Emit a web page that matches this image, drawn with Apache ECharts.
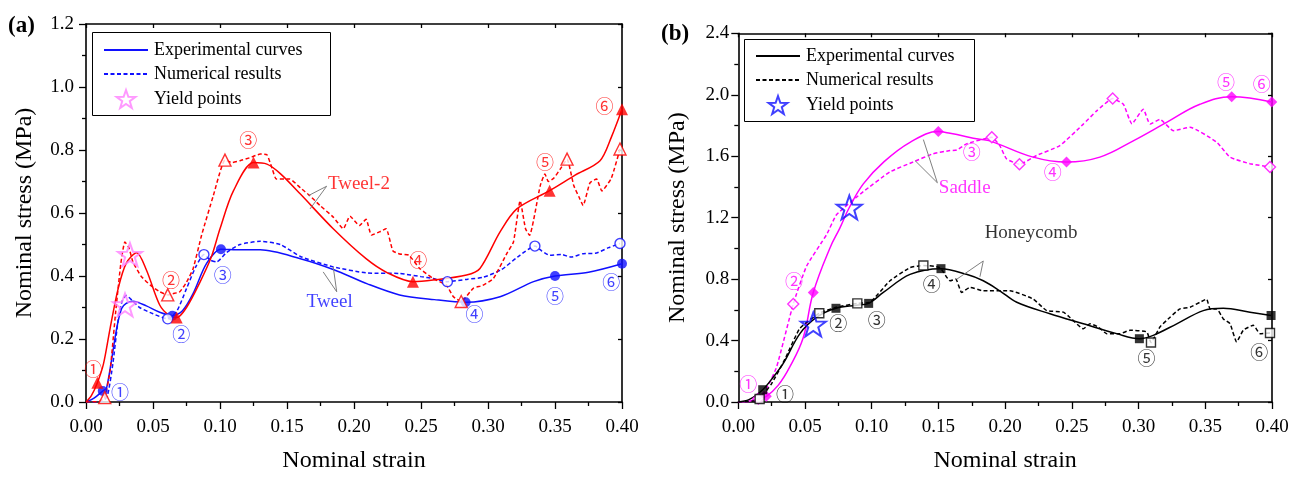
<!DOCTYPE html>
<html><head><meta charset="utf-8">
<script src="https://cdn.jsdelivr.net/npm/echarts@6/dist/echarts.min.js"></script>
<style>html,body{margin:0;padding:0;background:#fff}#c{width:1301px;height:478px}</style>
</head><body><div id="c"></div>
<script>
// ---------- Panel (a) data: [strain, stress] ----------
const tweelExp = [[0,0],[0.006,0.012],[0.0125,0.035],[0.0154,0.045],[0.0229,0.234],[0.0266,0.297],[0.03,0.313],[0.035,0.32],[0.045,0.305],[0.055,0.285],[0.0644,0.274],[0.072,0.29],[0.08,0.345],[0.09,0.44],[0.1007,0.485],[0.115,0.483],[0.13,0.483],[0.16,0.455],[0.185,0.42],[0.21,0.375],[0.234,0.34],[0.26,0.325],[0.2833,0.3165],[0.309,0.334],[0.334,0.382],[0.35,0.40],[0.375,0.412],[0.40,0.439]];
const tweelNum = [[0,0],[0.012,0.002],[0.016,0.02],[0.02,0.12],[0.024,0.26],[0.027,0.32],[0.03,0.338],[0.035,0.32],[0.04,0.30],[0.05,0.28],[0.061,0.264],[0.068,0.29],[0.075,0.36],[0.082,0.43],[0.088,0.468],[0.093,0.45],[0.0975,0.445],[0.105,0.475],[0.115,0.5],[0.13,0.51],[0.145,0.5],[0.16,0.462],[0.1845,0.429],[0.209,0.41],[0.234,0.408],[0.25,0.398],[0.259,0.392],[0.2697,0.382],[0.285,0.39],[0.2965,0.396],[0.31,0.42],[0.322,0.46],[0.335,0.495],[0.34,0.48],[0.346,0.466],[0.355,0.468],[0.362,0.46],[0.371,0.471],[0.38,0.472],[0.39,0.49],[0.3985,0.503]];
const tweel2Exp = [[0,0],[0.004,0.02],[0.0085,0.061],[0.013,0.12],[0.018,0.234],[0.024,0.36],[0.03,0.44],[0.0378,0.474],[0.045,0.42],[0.055,0.308],[0.062,0.275],[0.0677,0.268],[0.075,0.30],[0.085,0.38],[0.0935,0.46],[0.1,0.55],[0.11,0.67],[0.125,0.76],[0.135,0.755],[0.145,0.725],[0.16,0.66],[0.1845,0.55],[0.209,0.455],[0.225,0.41],[0.244,0.382],[0.259,0.387],[0.284,0.403],[0.294,0.424],[0.309,0.54],[0.3215,0.613],[0.346,0.671],[0.365,0.72],[0.3836,0.766],[0.392,0.84],[0.40,0.929]];
const tweel2Num = [[0,0],[0.01,0.002],[0.014,0.014],[0.018,0.1],[0.022,0.28],[0.026,0.44],[0.029,0.508],[0.032,0.49],[0.035,0.445],[0.041,0.40],[0.048,0.371],[0.055,0.35],[0.061,0.34],[0.066,0.345],[0.070,0.35],[0.075,0.38],[0.080,0.424],[0.0863,0.53],[0.095,0.655],[0.1037,0.768],[0.109,0.76],[0.115,0.766],[0.122,0.775],[0.13,0.787],[0.135,0.785],[0.139,0.74],[0.142,0.708],[0.152,0.708],[0.16,0.68],[0.167,0.655],[0.1746,0.624],[0.1845,0.587],[0.192,0.55],[0.197,0.59],[0.204,0.56],[0.209,0.58],[0.213,0.53],[0.219,0.54],[0.224,0.55],[0.229,0.48],[0.234,0.47],[0.241,0.466],[0.249,0.424],[0.259,0.392],[0.269,0.371],[0.274,0.335],[0.28,0.319],[0.289,0.361],[0.296,0.37],[0.304,0.392],[0.314,0.471],[0.319,0.508],[0.324,0.639],[0.328,0.55],[0.331,0.529],[0.339,0.687],[0.3425,0.724],[0.345,0.70],[0.349,0.71],[0.354,0.74],[0.359,0.771],[0.364,0.687],[0.368,0.65],[0.371,0.624],[0.376,0.695],[0.381,0.708],[0.385,0.67],[0.392,0.71],[0.3985,0.803]];
const tweelExpMarks = [[0.0125,0.035],[0.0644,0.274],[0.1007,0.485],[0.2833,0.3165],[0.35,0.40],[0.40,0.439]];
const tweelNumMarks = [[0.061,0.264],[0.088,0.468],[0.2697,0.382],[0.335,0.495],[0.3985,0.503]];
const tweel2ExpMarks = [[0.0085,0.061],[0.0677,0.268],[0.125,0.76],[0.244,0.382],[0.346,0.671],[0.40,0.929]];
const tweel2NumMarks = [[0.014,0.014],[0.061,0.34],[0.1037,0.768],[0.28,0.319],[0.359,0.771],[0.3985,0.803]];
const yieldA = [[0.0291,0.308],[0.0328,0.468]];
const stepLabels = ['①','②','③','④','⑤','⑥'];
const tweel2StepPos = [[0.0055,0.105],[0.0634,0.386],[0.121,0.83],[0.248,0.45],[0.3425,0.76],[0.387,0.94]];
const tweelStepPos = [[0.0254,0.032],[0.071,0.216],[0.102,0.402],[0.290,0.28],[0.35,0.335],[0.392,0.38]];
const namesA = [{t:'Tweel-2',p:[0.1809,0.689],c:'red'},{t:'Tweel',p:[0.165,0.315],c:'blue'}];
const leadersA = [[[0.1796,0.685],[0.1659,0.655]],[[0.1796,0.685],[0.1672,0.613]],[[0.1871,0.35],[0.1845,0.429]],[[0.1871,0.35],[0.177,0.413]]];

// ---------- Panel (b) data ----------
const saddleExp = [[0,0],[0.008,0.005],[0.016,0.026],[0.021,0.037],[0.03,0.11],[0.0387,0.23],[0.0487,0.42],[0.0562,0.713],[0.0687,1.003],[0.076,1.13],[0.0832,1.266],[0.0937,1.42],[0.1087,1.56],[0.1287,1.69],[0.1499,1.76],[0.1587,1.749],[0.181,1.71],[0.1886,1.70],[0.221,1.594],[0.246,1.562],[0.271,1.594],[0.296,1.70],[0.321,1.82],[0.346,1.938],[0.3698,1.987],[0.3998,1.953]];
const saddleNum = [[0,0],[0.008,0.004],[0.015,0.022],[0.022,0.1],[0.0288,0.23],[0.0412,0.638],[0.0512,0.885],[0.0662,1.09],[0.0737,1.22],[0.0937,1.369],[0.1137,1.498],[0.131,1.562],[0.146,1.616],[0.1587,1.637],[0.1637,1.64],[0.171,1.68],[0.19,1.723],[0.196,1.669],[0.201,1.583],[0.2107,1.547],[0.2236,1.605],[0.241,1.669],[0.2586,1.809],[0.2686,1.895],[0.2806,1.975],[0.2886,1.938],[0.295,1.81],[0.3035,1.906],[0.3086,1.809],[0.316,1.84],[0.326,1.766],[0.3385,1.788],[0.3586,1.691],[0.3685,1.594],[0.3835,1.551],[0.3985,1.53]];
const honeyExp = [[0,0],[0.008,0.015],[0.0183,0.08],[0.026,0.16],[0.0337,0.251],[0.0462,0.445],[0.0588,0.552],[0.0732,0.61],[0.0887,0.63],[0.0977,0.642],[0.1087,0.713],[0.1287,0.831],[0.1519,0.868],[0.171,0.831],[0.1836,0.789],[0.196,0.724],[0.2087,0.649],[0.2336,0.574],[0.2586,0.509],[0.2836,0.445],[0.3006,0.412],[0.311,0.434],[0.3286,0.509],[0.3485,0.595],[0.3635,0.61],[0.3835,0.584],[0.3993,0.563]];
const honeyNum = [[0,0],[0.01,0.005],[0.016,0.02],[0.025,0.12],[0.035,0.28],[0.0462,0.48],[0.0607,0.578],[0.0737,0.617],[0.0892,0.642],[0.099,0.65],[0.1137,0.789],[0.1287,0.875],[0.1387,0.889],[0.151,0.875],[0.1587,0.789],[0.163,0.80],[0.1674,0.713],[0.1737,0.746],[0.1836,0.724],[0.2036,0.724],[0.221,0.67],[0.2311,0.595],[0.2436,0.585],[0.2486,0.55],[0.2586,0.477],[0.2636,0.509],[0.27,0.487],[0.2761,0.445],[0.2861,0.445],[0.2936,0.467],[0.3061,0.456],[0.3093,0.387],[0.316,0.488],[0.3236,0.552],[0.331,0.606],[0.3386,0.617],[0.346,0.649],[0.351,0.67],[0.3536,0.606],[0.3586,0.606],[0.3635,0.541],[0.3685,0.51],[0.3735,0.391],[0.3785,0.467],[0.386,0.50],[0.391,0.445],[0.3985,0.449]];
const saddleExpMarks = [[0.021,0.037],[0.0562,0.713],[0.1499,1.76],[0.246,1.562],[0.3698,1.987],[0.3998,1.953]];
const saddleNumMarks = [[0.015,0.022],[0.0412,0.638],[0.19,1.723],[0.2107,1.547],[0.2806,1.975],[0.3985,1.53]];
const honeyExpMarks = [[0.0183,0.08],[0.0732,0.61],[0.0977,0.642],[0.1519,0.868],[0.3006,0.412],[0.3993,0.563]];
const honeyNumMarks = [[0.016,0.02],[0.0607,0.578],[0.0892,0.642],[0.1387,0.889],[0.3093,0.387],[0.3985,0.449]];
const yieldB = [[0.0562,0.505],[0.0832,1.266]];
const honeyStepPos = [[0.035,0.048],[0.075,0.51],[0.1037,0.531],[0.145,0.767],[0.306,0.284],[0.3905,0.327]];
const saddleStepPos = [[0.0075,0.119],[0.0417,0.789],[0.175,1.627],[0.2356,1.498],[0.3655,2.084],[0.3923,2.071]];
const namesB = [{t:'Saddle',p:[0.1507,1.39],c:'mag'},{t:'Honeycomb',p:[0.185,1.094],c:'black'}];
const leadersB = [[[0.1492,1.427],[0.1387,1.708]],[[0.1492,1.427],[0.1324,1.572]],[[0.1836,0.918],[0.1637,0.799]],[[0.1836,0.918],[0.1811,0.815]]];

const xTicks = {min:0, max:0.4, interval:0.05};
const yTicksA = {min:0, max:1.2, interval:0.2};
const yTicksB = {min:0, max:2.4, interval:0.4};
const legendNames = ['Experimental curves','Numerical results','Yield points'];

// ---------- styling ----------
const FF = '"Liberation Serif","Times New Roman",serif';
const CIRC_FONT = '"Noto Sans CJK JP","Noto Sans CJK SC","DejaVu Sans",sans-serif';
const COL = {blue:'#1010ff', red:'#ff0000', mag:'#ff00ff', black:'#000000', star:'#ff80ff', gray:'#808080'};
function starPath(){
  const pts=[];
  for(let i=0;i<10;i++){const a=-Math.PI/2+i*Math.PI/5;const r=i%2?0.4:1;pts.push(((Math.cos(a)*r+1)*50).toFixed(2)+','+((Math.sin(a)*r+1)*50).toFixed(2));}
  return 'path://M'+pts.join('L')+'Z';
}
const STAR = starPath();
const DASH = [4,2.5];

function axes(gi, yt, yDec, yMargin){
  const line = {show:true, onZero:false, lineStyle:{color:'#000', width:1.6}};
  const x = [
    {gridIndex:gi, type:'value', ...xTicks, position:'bottom', axisLine:line,
     axisTick:{inside:false,length:7,lineStyle:{color:'#000',width:1.3}},
     minorTick:{show:true,splitNumber:2,length:4,lineStyle:{color:'#000',width:1.3}},
     axisLabel:{fontFamily:FF,fontSize:19,color:'#000',margin:16,formatter:v=>v.toFixed(2)},
     splitLine:{show:false}, minorSplitLine:{show:false},
     name:'Nominal strain', nameLocation:'middle', nameGap:47, nameTextStyle:{fontFamily:FF,fontSize:24,color:'#000'}},
    {gridIndex:gi, type:'value', ...xTicks, position:'top', axisLine:line,
     axisTick:{inside:true,length:4,lineStyle:{color:'#000',width:1.3}},
     minorTick:{show:false}, axisLabel:{show:false}, splitLine:{show:false}}
  ];
  const y = [
    {gridIndex:gi, type:'value', ...yt, position:'left', axisLine:line,
     axisTick:{inside:false,length:7,lineStyle:{color:'#000',width:1.3}},
     minorTick:{show:true,splitNumber:2,length:4,lineStyle:{color:'#000',width:1.3}},
     axisLabel:{fontFamily:FF,fontSize:19,color:'#000',margin:yMargin,formatter:v=>v.toFixed(yDec)},
     splitLine:{show:false},
     name:'Nominal stress (MPa)', nameLocation:'middle', nameGap:49, nameTextStyle:{fontFamily:FF,fontSize:24,color:'#000'}},
    {gridIndex:gi, type:'value', ...yt, position:'right', axisLine:line,
     axisTick:{inside:true,length:4,lineStyle:{color:'#000',width:1.3}},
     minorTick:{show:false}, axisLabel:{show:false}, splitLine:{show:false}}
  ];
  return {x,y};
}
const aA = axes(0, yTicksA, 1, 12), aB = axes(1, yTicksB, 1, 9);

function curve(gi, data, color, dashed, smooth){
  return {type:'line', xAxisIndex:gi*2, yAxisIndex:gi*2, data, showSymbol:false, symbol:'none', silent:true,
    smooth: smooth, lineStyle:{color, width:1.5, type: dashed?DASH:'solid'}, z:3};
}
function marks(gi, data, symbol, color, filled, size){
  return {type:'scatter', xAxisIndex:gi*2, yAxisIndex:gi*2, data, symbol, symbolSize:size, silent:true, z:5,
    itemStyle: filled ? {color} : {color:'#ffffff', borderColor:color, borderWidth:1.4}};
}
function stars(gi, name, data, color, size){
  return {type:'scatter', name, xAxisIndex:gi*2, yAxisIndex:gi*2, data, symbol:STAR, symbolSize:size, symbolKeepAspect:true, silent:true, z:6,
    itemStyle:{color:'rgba(255,255,255,0)', borderColor:color, borderWidth:2}};
}
function steps(gi, pos, color){
  return {type:'scatter', xAxisIndex:gi*2, yAxisIndex:gi*2, symbolSize:1, silent:true, z:7,
    itemStyle:{color:'rgba(0,0,0,0)'},
    data: pos.map((p,i)=>({value:p, name:stepLabels[i]})),
    label:{show:true, position:'inside', formatter:'{b}', color, fontSize:18, fontFamily:CIRC_FONT}};
}
function names(gi, list){
  return {type:'scatter', xAxisIndex:gi*2, yAxisIndex:gi*2, symbolSize:1, silent:true, z:7,
    itemStyle:{color:'rgba(0,0,0,0)'},
    data: list.map(o=>({value:o.p, name:o.t, label:{color:COL[o.c]}})),
    label:{show:true, position:[0,0], align:'left', verticalAlign:'middle', formatter:'{b}', fontSize:19, fontFamily:FF}};
}
function leaders(gi, segs){
  return {type:'lines', coordinateSystem:'cartesian2d', xAxisIndex:gi*2, yAxisIndex:gi*2, polyline:false, silent:true, z:4,
    lineStyle:{color:COL.gray, width:1, opacity:1}, data: segs.map(s=>({coords:s}))};
}
function legendDummy(gi, name, color, dashed){
  return {type:'line', name, xAxisIndex:gi*2, yAxisIndex:gi*2, data:[], symbol:'none', lineStyle:{color, width:1.5, type: dashed?DASH:'solid'}, itemStyle:{color}};
}

const series = [
  leaders(0, leadersA),
  curve(0, tweelExp, COL.blue, false, 0.3),
  curve(0, tweelNum, COL.blue, true, 0.2),
  curve(0, tweel2Exp, COL.red, false, 0.3),
  curve(0, tweel2Num, COL.red, true, 0.15),
  marks(0, tweelExpMarks, 'circle', COL.blue, true, 10),
  marks(0, tweelNumMarks, 'circle', COL.blue, false, 10),
  marks(0, tweel2ExpMarks, 'triangle', COL.red, true, 12),
  marks(0, tweel2NumMarks, 'triangle', COL.red, false, 12),
  stars(0, legendNames[2]+'|a', yieldA, COL.star, 24),
  steps(0, tweel2StepPos, COL.red),
  steps(0, tweelStepPos, COL.blue),
  names(0, namesA),
  legendDummy(0, legendNames[0]+'|a', COL.blue, false),
  legendDummy(0, legendNames[1]+'|a', COL.blue, true),

  leaders(1, leadersB),
  curve(1, saddleExp, COL.mag, false, 0.4),
  curve(1, saddleNum, COL.mag, true, 0.15),
  curve(1, honeyExp, COL.black, false, 0.35),
  curve(1, honeyNum, COL.black, true, 0.15),
  marks(1, saddleExpMarks, 'diamond', COL.mag, true, 11),
  marks(1, saddleNumMarks, 'diamond', COL.mag, false, 11),
  marks(1, honeyExpMarks, 'rect', COL.black, true, 9),
  marks(1, honeyNumMarks, 'rect', COL.black, false, 9),
  stars(1, legendNames[2]+'|b', yieldB, COL.blue, 25),
  steps(1, honeyStepPos, COL.black),
  steps(1, saddleStepPos, COL.mag),
  names(1, namesB),
  legendDummy(1, legendNames[0]+'|b', COL.black, false),
  legendDummy(1, legendNames[1]+'|b', COL.black, true)
];

function legend(left, top, suffix){
  const hide = {opacity:0, color:'rgba(0,0,0,0)', borderWidth:0};
  return {show:true, orient:'vertical', left, top, itemWidth:44, itemHeight:18, itemGap:6, padding:0,
    selectedMode:false,
    data: [
      {name:legendNames[0]+suffix, itemStyle:hide},
      {name:legendNames[1]+suffix, itemStyle:hide},
      {name:legendNames[2]+suffix}
    ],
    formatter: n=>n.split('|')[0],
    textStyle:{fontFamily:FF, fontSize:18, color:'#000', padding:[0,0,0,1]}};
}

const chart = echarts.init(document.getElementById('c'), null, {renderer:'canvas'});
chart.setOption({
  animation:false,
  backgroundColor:'#fff',
  grid:[{left:86, top:24, width:536, height:380.3},{left:738.3, top:33.3, width:533.7, height:372.4}],
  xAxis:[...aA.x, ...aB.x],
  yAxis:[...aA.y, ...aB.y],
  legend:[legend(103, 41, '|a'), legend(755, 47, '|b')],
  graphic:[
    {type:'rect', shape:{x:92.5, y:32.5, width:238, height:83}, style:{fill:'none', stroke:'#000', lineWidth:1}, z:10},
    {type:'rect', shape:{x:744.5, y:39.5, width:230, height:82}, style:{fill:'none', stroke:'#000', lineWidth:1}, z:10},
    {type:'text', left:8, top:15, style:{text:'(a)', font:'bold 23px '+FF, fill:'#000'}},
    {type:'text', left:661, top:23, style:{text:'(b)', font:'bold 23px '+FF, fill:'#000'}}
  ],
  series
});
</script></body></html>
